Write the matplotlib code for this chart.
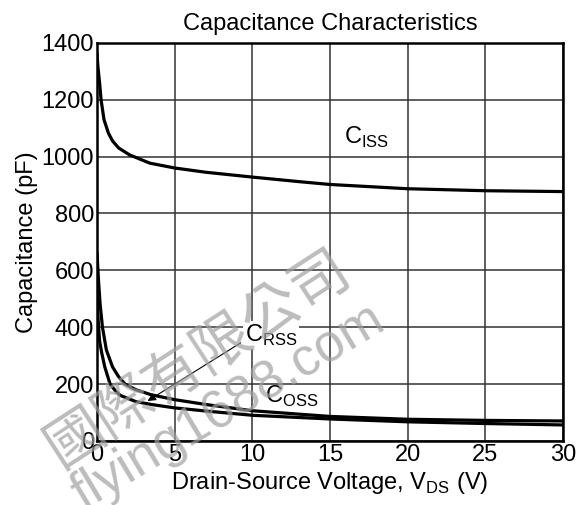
import matplotlib
matplotlib.use("Agg")
import matplotlib.pyplot as plt

plt.rcParams['font.family'] = ['Liberation Sans', 'DejaVu Sans']

# Data
v_ciss = [0, 0.06, 0.17, 0.26, 0.45, 0.73, 1.0, 1.4, 2.1, 3.4, 5, 7, 10, 13, 15, 20, 25, 30]
ciss = [1360, 1315, 1257, 1200, 1130, 1083, 1055, 1030, 1006, 977, 960, 945, 928, 912, 902, 887, 880, 877]

v_coss = [0, 0.05, 0.1, 0.2, 0.35, 0.6, 1, 1.4, 1.8, 2.5, 3.5, 5, 7, 10, 15, 20, 25, 30]
coss = [660, 610, 560, 480, 400, 320, 260, 225, 200, 180, 162, 145, 128, 106, 86, 76, 72, 70]

v_crss = [0, 0.05, 0.1, 0.17, 0.3, 0.5, 0.84, 1.2, 1.5, 2.5, 3.5, 5, 7, 10, 15, 20, 25, 30]
crss = [520, 450, 400, 350, 310, 260, 200, 175, 160, 138, 128, 116, 105, 90, 77, 67, 61, 56]

x_ticks = [0, 5, 10, 15, 20, 25, 30]
y_ticks = [0, 200, 400, 600, 800, 1000, 1200, 1400]

fig = plt.figure(figsize=(5.81, 5.05), dpi=100)
ax = fig.add_axes([0.167, 0.127, 0.802, 0.788])

for xs, ys in ((v_ciss, ciss), (v_coss, coss), (v_crss, crss)):
    ax.plot(xs, ys, color='black', lw=2.3, zorder=3, solid_joinstyle='round')

ax.set_xlim(0, 30)
ax.set_ylim(0, 1400)
ax.set_xticks(x_ticks)
ax.set_yticks(y_ticks)
ax.grid(True, color='#333333', lw=1.1)
ax.set_axisbelow(True)
for s in ax.spines.values():
    s.set_linewidth(1.8)
ax.tick_params(length=0, pad=2, labelsize=17)

ax.set_title('Capacitance Characteristics', fontsize=17, pad=9)
ax.set_xlabel(r'Drain-Source Voltage, V$_{\mathregular{DS}}$ (V)', fontsize=17, labelpad=3)
ax.set_ylabel('Capacitance (pF)', fontsize=17, labelpad=3)

ax.text(15.9, 1066, r'C$_{\mathregular{ISS}}$', fontsize=17, va='center', ha='left', zorder=5)
ax.text(9.5, 372, r'C$_{\mathregular{RSS}}$', fontsize=17, va='center', ha='left', zorder=5,
        bbox=dict(facecolor='white', edgecolor='none', pad=1))
ax.text(10.8, 158, r'C$_{\mathregular{OSS}}$', fontsize=17, va='center', ha='left', zorder=5)
ax.annotate('', xy=(3.1, 135), xytext=(9.4, 350),
            arrowprops=dict(arrowstyle='-|>', color='black', lw=0.8, mutation_scale=12), zorder=5)

# watermark
fig.text(0.06, 0.05, '國際有限公司', fontsize=42, color='#a0a0a0', alpha=0.7, rotation=33,
         family=['Noto Sans CJK TC', 'DejaVu Sans'], ha='left', va='bottom', zorder=10)
fig.text(0.11, -0.03, 'flying1688.com', fontsize=38, color='#a0a0a0', alpha=0.7, rotation=31,
         family=['Liberation Sans', 'DejaVu Sans'], ha='left', va='bottom', zorder=10)

fig.savefig('out.png', dpi=100)
